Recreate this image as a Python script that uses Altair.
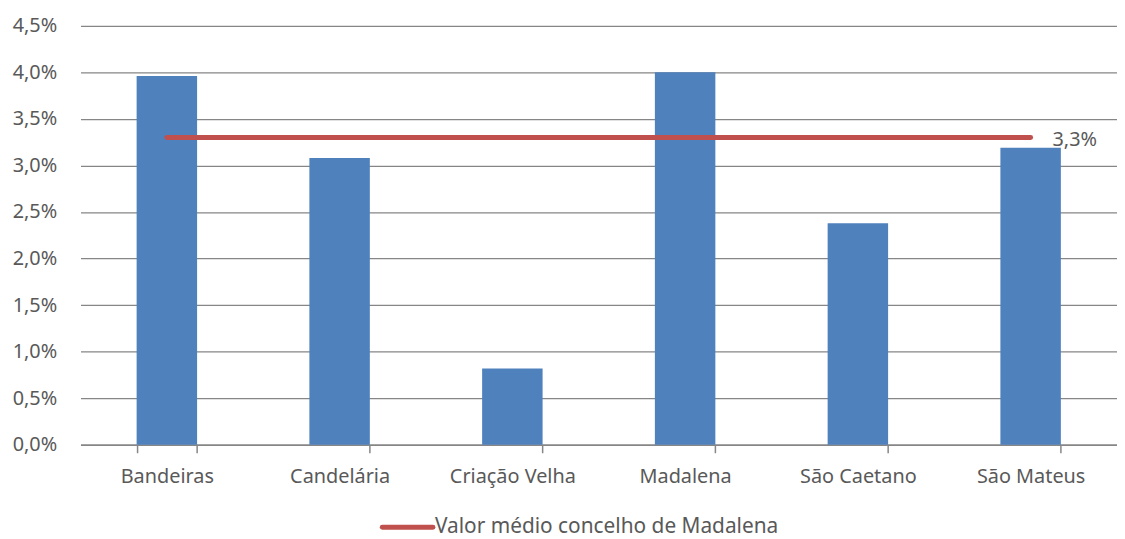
import altair as alt
import pandas as pd

categories = ["Bandeiras", "Candelária", "Criação Velha", "Madalena", "São Caetano", "São Mateus"]
values = [0.0396, 0.0308, 0.0082, 0.0400, 0.0238, 0.0319]
mean_value = 0.033
mean_label = "Valor médio concelho de Madalena"

df = pd.DataFrame({"cat": categories, "val": values})
mean_df = pd.DataFrame({"cat": categories, "val": [mean_value] * len(categories)})
lbl_df = pd.DataFrame({"cat": [categories[-1]], "val": [mean_value], "txt": ["3,3%"]})
leg_df = pd.DataFrame({"txt": [mean_label]})

FONT = "Noto Sans"
TXT = "#595959"
RED = "#C0504D"
FS = 20

xscale = alt.Scale(domain=categories, paddingInner=0.65, paddingOuter=0.325)
yscale = alt.Scale(domain=[0, 0.045], nice=False)

x_enc = alt.X("cat:N", scale=xscale, sort=categories, title=None,
              axis=alt.Axis(labelAngle=0, labelFontSize=FS, labelFont=FONT, labelColor=TXT,
                            labelPadding=14, tickSize=8, tickColor="#868686", tickWidth=1.5,
                            domainColor="#868686", domainWidth=1.5, tickBand="extent",
                            grid=False))
y_enc = alt.Y("val:Q", scale=yscale, title=None,
              axis=alt.Axis(values=[i * 0.005 for i in range(10)],
                            labelExpr="replace(format(datum.value, '.1%'), '.', ',')",
                            labelFontSize=FS, labelFont=FONT, labelColor=TXT, labelPadding=24,
                            ticks=False, domain=False, grid=True, gridColor="#868686",
                            gridWidth=1.3))

bars = alt.Chart(df).mark_bar(color="#4F81BD").encode(x=x_enc, y=y_enc)

line = alt.Chart(mean_df).mark_line(strokeWidth=5, strokeCap="round", color=RED).encode(
    x=alt.X("cat:N", scale=xscale, sort=categories),
    y=alt.Y("val:Q", scale=yscale),
)

label = alt.Chart(lbl_df).mark_text(align="left", baseline="middle", dx=22, dy=3,
                                    fontSize=FS, font=FONT, color=TXT).encode(
    x=alt.X("cat:N", scale=xscale, sort=categories),
    y=alt.Y("val:Q", scale=yscale),
    text="txt:N",
)

leg_line = alt.Chart(leg_df).mark_rule(strokeWidth=5, strokeCap="round", color=RED).encode(
    x=alt.value(304), x2=alt.value(355), y=alt.value(505)
)
leg_text = alt.Chart(leg_df).mark_text(align="left", baseline="middle", fontSize=FS + 1,
                                       font=FONT, color=TXT).encode(
    x=alt.value(357), y=alt.value(505), text="txt:N"
)

chart = alt.layer(bars, line, label, leg_line, leg_text).properties(
    width=1044, height=422,
    autosize=alt.AutoSizeParams(type="none"),
    padding={"left": 73, "top": 16, "right": 0, "bottom": 93},
    background="white",
).configure_view(stroke=None)

chart.save("out.html", embed_options={"renderer": "svg", "actions": False})
